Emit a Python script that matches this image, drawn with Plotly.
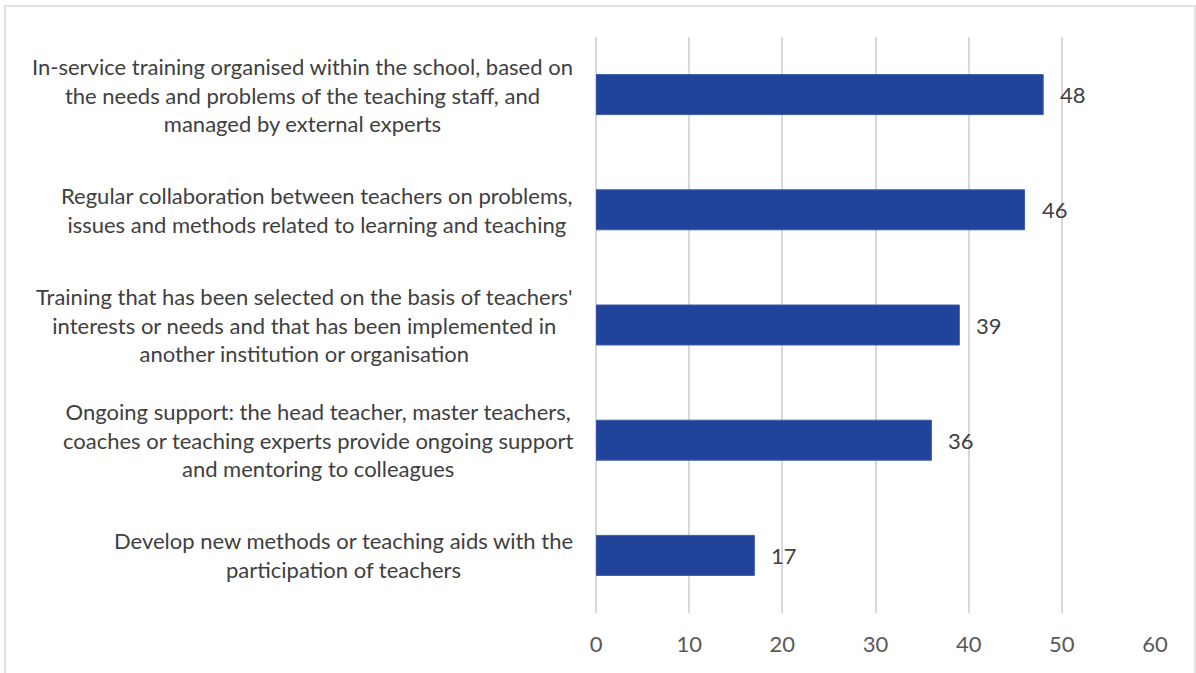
import plotly.graph_objects as go

# data
categories = [
    "In-service training organised within the school, based on<br>the needs and problems of the teaching staff, and<br>managed by external experts",
    "Regular collaboration between teachers on problems,<br>issues and methods related to learning and teaching",
    "Training that has been selected on the basis of teachers'<br>interests or needs and that has been implemented in<br>another institution or organisation",
    "Ongoing support: the head teacher, master teachers,<br>coaches or teaching experts provide ongoing support<br>and mentoring to colleagues",
    "Develop new methods or teaching aids with the<br>participation of teachers",
]
values = [48, 46, 39, 36, 17]
x_ticks = [0, 10, 20, 30, 40, 50, 60]

FONT = "Lato"
TEXT_COLOR = "#404040"
TICK_COLOR = "#595959"
BAR_COLOR = "#21449A"

fig = go.Figure(go.Bar(
    x=values,
    y=list(range(len(categories))),
    orientation="h",
    marker=dict(color=BAR_COLOR, line=dict(color="#3A5DAA", width=1)),
    hoverinfo="x",
))

annotations = []
# category labels, centred lines, right edge next to the plot
for i, cat in enumerate(categories):
    annotations.append(dict(
        x=0, xref="paper", y=i, yref="y",
        text=cat, showarrow=False,
        xanchor="right", align="center", xshift=-21,
        font=dict(family=FONT, size=22, color=TEXT_COLOR),
    ))
# value labels
for i, v in enumerate(values):
    annotations.append(dict(
        x=v, xref="x", y=i, yref="y",
        text=str(v), showarrow=False,
        xanchor="left", xshift=15,
        font=dict(family=FONT, size=22, color=TEXT_COLOR),
    ))

fig.update_layout(
    width=1196, height=673,
    paper_bgcolor="white", plot_bgcolor="white",
    margin=dict(l=596, r=41, t=37, b=60),
    bargap=0.653,
    showlegend=False,
    annotations=annotations,
    xaxis=dict(
        range=[0, 60], tickvals=x_ticks,
        showgrid=True, gridcolor="#D9D9D9", gridwidth=2,
        zeroline=True, zerolinecolor="#D9D9D9", zerolinewidth=2,
        showline=False,
        ticks="", ticklabelstandoff=16,
        tickfont=dict(family=FONT, size=22, color=TICK_COLOR),
        fixedrange=True,
    ),
    yaxis=dict(
        range=[len(categories) - 0.5, -0.5],
        showticklabels=False, showgrid=False, zeroline=False, showline=False,
        fixedrange=True,
    ),
    shapes=[dict(
        type="rect", xref="paper", yref="paper",
        xsizemode="pixel", ysizemode="pixel",
        xanchor=0, yanchor=0,
        x0=-591, x1=599, y0=-70, y1=607,
        line=dict(color="#D9D9D9", width=1.5),
        fillcolor="rgba(0,0,0,0)",
        layer="below",
    )],
)

fig.write_html(
    "out.html",
    config=dict(displayModeBar=False),
    post_script="document.body.style.margin='0';document.body.style.overflow='hidden';",
)
